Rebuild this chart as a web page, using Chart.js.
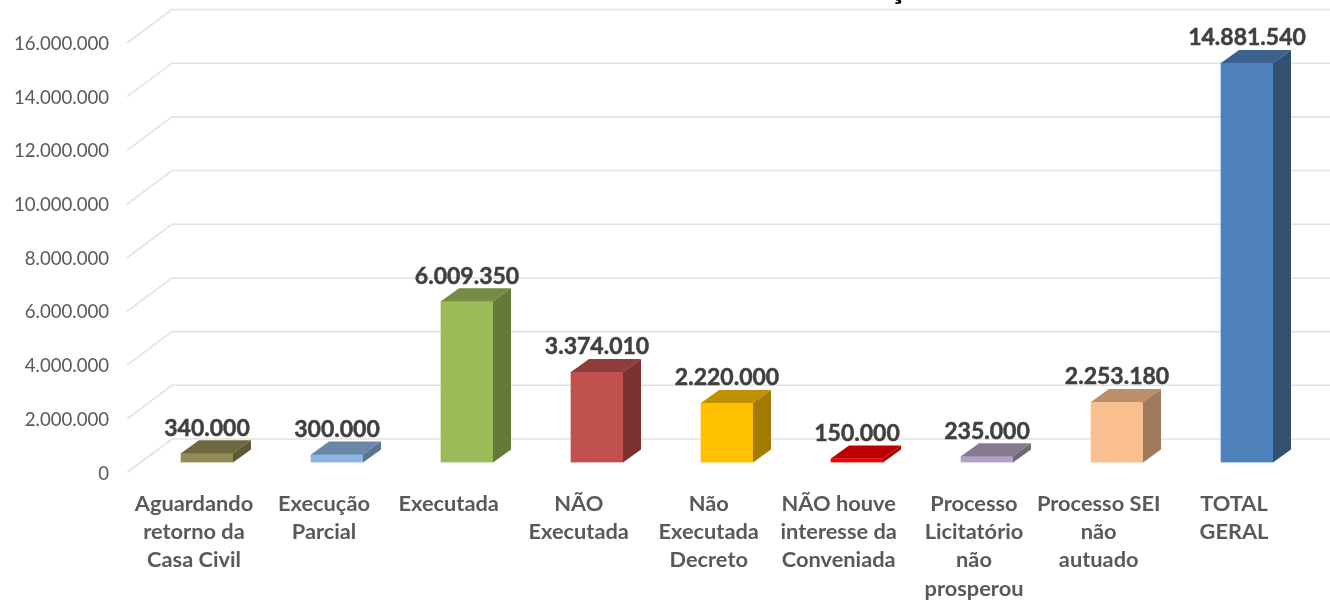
<!DOCTYPE html>
<html>
<head>
<meta charset="utf-8">
<style>html,body{margin:0;padding:0;background:#fff}canvas{display:block}</style>
<script src="https://cdn.jsdelivr.net/npm/chart.js@4"></script>
</head>
<body>
<canvas id="c" width="1330" height="600"></canvas>
<script>
const categories = [
  ["Aguardando","retorno da","Casa Civil"],
  ["Execução","Parcial"],
  ["Executada"],
  ["NÃO","Executada"],
  ["Não","Executada","Decreto"],
  ["NÃO houve","interesse da","Conveniada"],
  ["Processo","Licitatório","não","prosperou"],
  ["Processo SEI","não","autuado"],
  ["TOTAL","GERAL"]
];
const values = [340000,300000,6009350,3374010,2220000,150000,235000,2253180,14881540];
const frontColors = ["#948A54","#8DB4E2","#9BBB59","#C0504D","#FFC000","#FF0000","#B1A0C7","#FABF8F","#4F81BD"];
const topColors   = ["#6F673F","#6A87AA","#748C43","#903C3A","#BF9000","#BF0000","#85788F","#BC8F6B","#3B618E"];
const sideColors  = ["#5E5835","#5A738F","#637839","#7B3331","#A37B00","#A30000","#71667A","#A07A5B","#325171"];
const labelTrail = ["","","  ","  ","  ","  ","","  ",""];

const fmt = v => String(v).replace(/\B(?=(\d{3})+(?!\d))/g, ".");
const DX = 18, DY = 13;

const walls = {
  id: "walls",
  beforeDatasetsDraw(chart) {
    const c = chart.ctx, y = chart.scales.y;
    c.save();
    c.strokeStyle = "#E2E2E2";
    c.lineWidth = 1.6;
    y.ticks.forEach(t => {
      const p = y.getPixelForValue(t.value);
      c.beginPath();
      c.moveTo(127, p + 10);
      c.lineTo(172, p - 23.5);
      c.lineTo(1330, p - 23.5);
      c.stroke();
    });
    c.fillStyle = "#000";
    c.font = "bold 32px Lato";
    c.textAlign = "center";
    c.textBaseline = "alphabetic";
    c.fillText("ç", 897, -1);
    c.restore();
  }
};

const bars3d = {
  id: "bars3d",
  afterDatasetsDraw(chart) {
    const c = chart.ctx;
    chart.getDatasetMeta(0).data.forEach((b, i) => {
      const l = b.x - b.width / 2, r = b.x + b.width / 2, t = b.y, bt = b.base;
      c.fillStyle = topColors[i];
      c.beginPath();
      c.moveTo(l, t); c.lineTo(l + DX, t - DY); c.lineTo(r + DX, t - DY); c.lineTo(r, t);
      c.closePath(); c.fill();
      c.fillStyle = sideColors[i];
      c.beginPath();
      c.moveTo(r, t); c.lineTo(r + DX, t - DY); c.lineTo(r + DX, bt - DY); c.lineTo(r, bt);
      c.closePath(); c.fill();
    });
    c.save();
    c.fillStyle = "#404040";
    c.strokeStyle = "#404040";
    c.lineWidth = 0.5;
    c.font = "bold 23px Lato";
    c.textAlign = "center";
    c.textBaseline = "middle";
    chart.getDatasetMeta(0).data.forEach((b, i) => {
      c.fillText(fmt(values[i]), b.x, b.y - 25);
      c.strokeText(fmt(values[i]), b.x, b.y - 25);
    });
    c.restore();
  }
};

new Chart(document.getElementById("c"), {
  type: "bar",
  data: {
    labels: categories,
    datasets: [{ data: values, backgroundColor: frontColors, borderWidth: 0, barThickness: 52 }]
  },
  options: {
    responsive: false,
    animation: false,
    layout: { padding: { top: 33, right: 18, bottom: 0, left: 0 } },
    plugins: { legend: { display: false }, title: { display: false }, tooltip: { enabled: false } },
    scales: {
      x: {
        grid: { display: false, drawTicks: false },
        border: { display: false },
        afterFit(s) { s.height = 137.5; },
        ticks: {
          autoSkip: false, maxRotation: 0, minRotation: 0, padding: 27, labelOffset: -13,
          color: "#595959",
          font: { family: "Lato", size: 21.8, weight: "bold", lineHeight: 1.3 },
          callback: (v, i) => categories[i].map(line => line + labelTrail[i])
        }
      },
      y: {
        min: 0, max: 16000000,
        grid: { display: false, drawTicks: false },
        border: { display: false },
        afterFit(s) { s.width = 142; s.paddingTop = 0; s.paddingBottom = 0; },
        ticks: {
          stepSize: 2000000, padding: 33, labelOffset: 11,
          color: "#595959",
          font: { family: "Lato", size: 18.6 },
          callback: v => fmt(v)
        }
      }
    }
  },
  plugins: [walls, bars3d]
});
</script>
</body>
</html>
